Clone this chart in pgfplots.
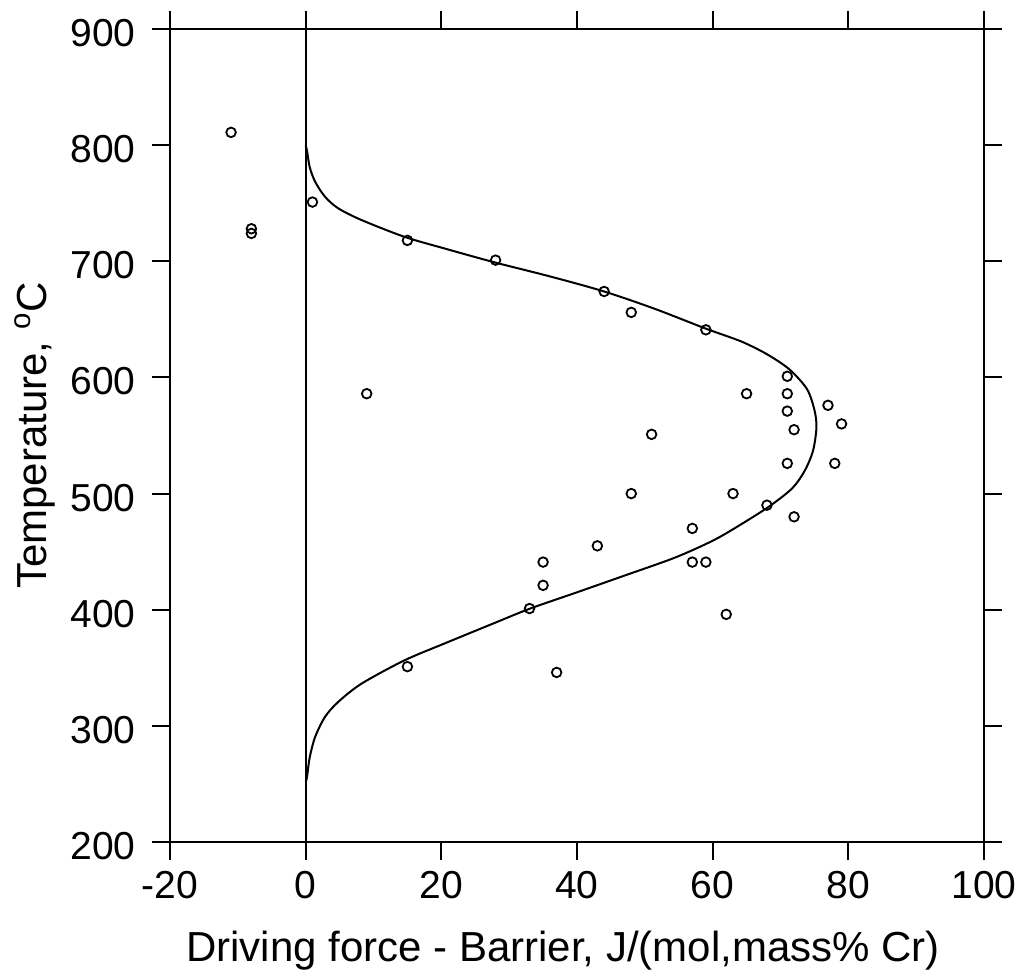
\documentclass[border=0pt]{standalone}
\usepackage{fontspec}
\setmainfont{Liberation Sans}
\usepackage{pgfplots}
\pgfplotsset{compat=1.18}
\begin{document}
\begin{tikzpicture}
\useasboundingbox (-85pt,-64pt) rectangle (423.5pt,421pt);
\begin{axis}[
  at={(0pt,0pt)}, anchor=south west,
  scale only axis, width=407pt, height=406.5pt,
  xmin=-20, xmax=100, ymin=200, ymax=900,
  xtick={-20,0,20,40,60,80,100},
  ytick={200,300,400,500,600,700,800,900},
  tick align=outside,
  major tick length=9pt,
  axis line style={line width=1pt},
  every tick/.style={line width=1pt, black},
  /pgf/number format/assume math mode=true,
  tick label style={font=\fontsize{19.5}{23}\selectfont, inner sep=0pt},
  xticklabel style={yshift=-5.5pt},
  yticklabel style={xshift=-8pt, yshift=-2pt},
  label style={font=\fontsize{21}{25}\selectfont},
  xlabel={Driving force - Barrier, J/(mol,mass\% Cr)},
  ylabel={Temperature, \textsuperscript{o}C},
  xlabel style={at={(axis description cs:0.5,0)}, anchor=base, yshift=-59.8pt, xshift=-7pt},
  ylabel style={at={(axis description cs:-0.1523,0.5)}, anchor=base},
]
\addplot[line width=1pt, black] coordinates {(0,200) (0,900)};
\addplot[line width=1pt, black, smooth, tension=0.5] coordinates {
(0,252) (0.2,256) (0.6,273) (1.4,290.5) (2.85,307.7) (4.8,320.6) (8.25,336.4)
(14.6,356.5) (20.5,371) (27.6,388) (33.1,401) (40.0,415) (47.3,430) (54.5,445)
(60.2,460) (64.6,475) (68.6,490) (71.8,505) (73.6,520) (74.8,537) (75.3,557)
(75.0,572) (73.9,590) (71.3,607) (68.0,620) (64.2,631) (59.0,642) (51.5,659)
(44.0,674) (36.0,687) (27.9,699) (20.5,711) (14.6,721) (8.25,735.5) (4.8,745.6)
(2.85,755.6) (1.4,768.5) (0.6,781) (0.2,795) (0,800)
};
\addplot[only marks, mark=o, mark size=2.4pt, mark options={line width=0.9pt, black}] coordinates {
(-11,811) (-8,728) (-8,724) (1,751) (15,718) (28,701) (44,674) (48,656) (59,641)
(71,601) (65,586) (71,586) (9,586) (77,576) (71,571) (79,560) (72,555) (51,551)
(71,526) (78,526) (48,500) (63,500) (68,490) (72,480) (57,470) (43,455)
(35,441) (57,441) (59,441) (35,421) (33,401) (62,396) (15,351) (37,346)
};
\end{axis}
\end{tikzpicture}
\end{document}
